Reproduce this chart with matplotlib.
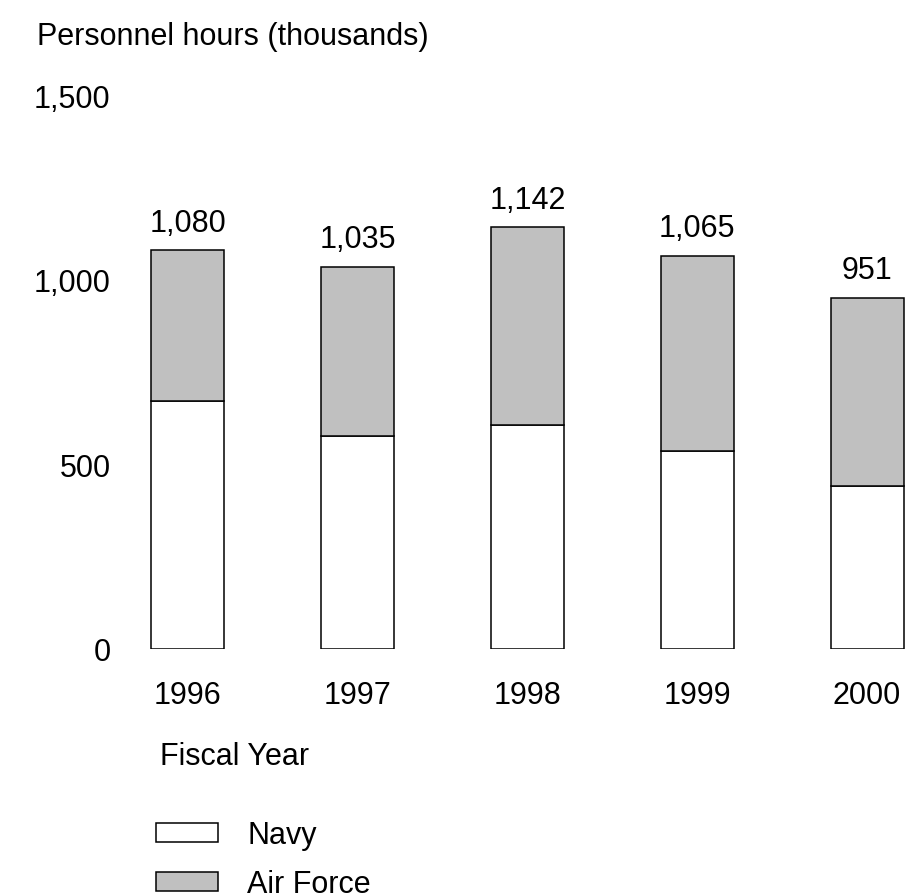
import matplotlib.pyplot as plt

plt.rcParams['font.family'] = ['Liberation Sans', 'DejaVu Sans']

years = ['1996', '1997', '1998', '1999', '2000']
navy = [672, 577, 607, 537, 442]
totals = [1080, 1035, 1142, 1065, 951]
air_force = [t - n for t, n in zip(totals, navy)]
total_labels = ['1,080', '1,035', '1,142', '1,065', '951']
ytick_vals = [0, 500, 1000, 1500]
ytick_labels = ['0', '500', '1,000', '1,500']

FS = 22
W, H = 905, 895
fig = plt.figure(figsize=(W / 100, H / 100), dpi=100)
# axes: x from pixel 130 to 905, y from pixel 650 (0) up to 96 (1500)
ax = fig.add_axes([130 / W, (H - 650) / H, (W - 130) / W, (650 - 96) / H])

x = list(range(len(years)))
bw = 0.43
b1 = ax.bar(x, navy, width=bw, color='white', edgecolor='black', linewidth=1.1, label='Navy')
b2 = ax.bar(x, air_force, width=bw, bottom=navy, color='#c0c0c0', edgecolor='black',
            linewidth=1.1, label='Air Force')

for xi, t, lab in zip(x, totals, total_labels):
    ax.annotate(lab, (xi, t), xytext=(0, 9), textcoords='offset points',
                ha='center', va='bottom', fontsize=FS)

# pixel 188 -> bar 0, spacing 170 px
ax.set_xlim(-(188 - 130) / 170, 4 + (905 - 867) / 170)
ax.set_ylim(0, 1500)
ax.set_xticks(x)
ax.set_xticklabels(years, fontsize=FS)
ax.set_yticks(ytick_vals)
ax.set_yticklabels(ytick_labels, fontsize=FS)
ax.tick_params(length=0)
ax.tick_params(axis='y', pad=14)
ax.tick_params(axis='x', pad=22)
for s in ax.spines.values():
    s.set_visible(False)

fig.text(37 / W, 1 - 37 / H, 'Personnel hours (thousands)', fontsize=FS, va='center', ha='left')
fig.text(160 / W, 1 - 757 / H, 'Fiscal Year', fontsize=FS, va='center', ha='left')

fig.legend(handles=[b1, b2], labels=['Navy', 'Air Force'], loc='upper left',
           bbox_to_anchor=(128 / W, 1 - 794 / H), frameon=False, fontsize=FS,
           handlelength=2.06, handleheight=0.56, handletextpad=0.95, labelspacing=0.62)

fig.savefig('out.png', dpi=100)
